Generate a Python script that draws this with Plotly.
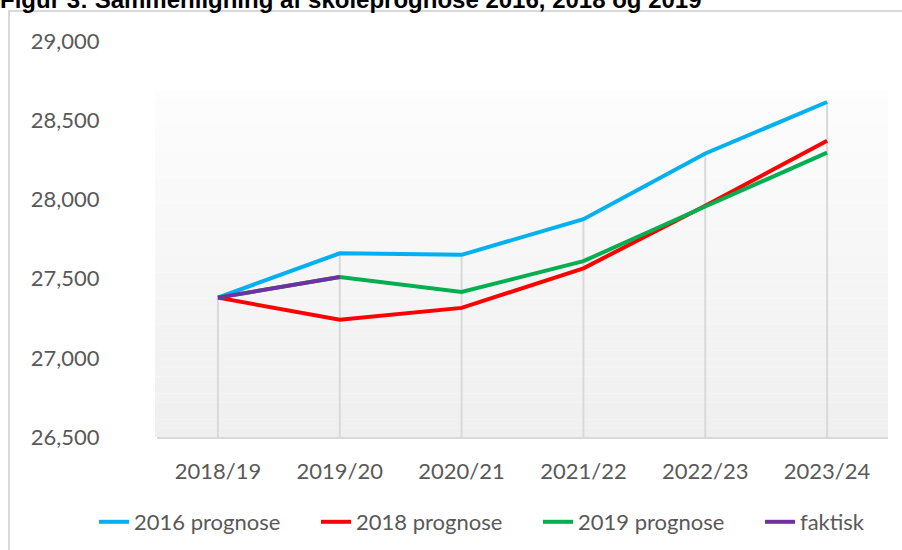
import plotly.graph_objects as go

categories = ["2018/19", "2019/20", "2020/21", "2021/22", "2022/23", "2023/24"]
prognose_2016 = [27380, 27660, 27650, 27875, 28290, 28615]
prognose_2018 = [27380, 27240, 27315, 27565, 27960, 28370]
prognose_2019 = [27380, 27510, 27415, 27610, 27955, 28295]
faktisk = [27380, 27510, None, None, None, None]

series = [
    ("2016 prognose", prognose_2016, "#00b0f0"),
    ("2018 prognose", prognose_2018, "#ff0000"),
    ("2019 prognose", prognose_2019, "#00b050"),
    ("faktisk", faktisk, "#7030a0"),
]

FONT = "Lato, 'Open Sans', sans-serif"
W, H = 902, 550
L, R, T, B = 157, 14, 41, 113
PW, PH = W - L - R, H - T - B


def px_x(px):
    return (px - L) / PW


def px_y(py):
    return (H - B - py) / PH


fig = go.Figure()
for name, vals, color in series:
    fig.add_trace(go.Scatter(
        x=categories, y=vals, name=name, mode="lines",
        line=dict(color=color, width=4), connectgaps=False,
        legendwidth=177 if name != "faktisk" else 70,
    ))

shapes = []
# gradient background of plot area (style only)
top_px, bot_px = 91, 437
n = 40
for i in range(n):
    y0p = top_px + (bot_px - top_px) * i / n
    y1p = top_px + (bot_px - top_px) * (i + 1) / n
    t = (i + 0.5) / n
    g = round(253 - (253 - 239) * t)
    shapes.append(dict(
        type="rect", xref="paper", yref="paper",
        x0=px_x(155), x1=px_x(888), y0=px_y(y1p), y1=px_y(y0p),
        fillcolor=f"rgb({g},{g},{g})", line=dict(width=0), layer="below",
    ))

# drop lines from highest value down to axis
for i, c in enumerate(categories):
    top = max(v[i] for _, v, _ in series if v[i] is not None)
    shapes.append(dict(
        type="line", xref="x", yref="y", x0=c, x1=c, y0=26500, y1=top,
        line=dict(color="#d9d9d9", width=2), layer="below",
    ))

# outer chart border
shapes.append(dict(
    type="rect", xref="paper", yref="paper",
    x0=px_x(9), x1=px_x(920), y0=px_y(570), y1=px_y(11),
    line=dict(color="#d9d9d9", width=2), fillcolor="rgba(0,0,0,0)",
))

fig.update_layout(
    width=W, height=H,
    margin=dict(l=L, r=R, t=T, b=B, pad=0, autoexpand=False),
    paper_bgcolor="white", plot_bgcolor="rgba(0,0,0,0)",
    font=dict(family=FONT, size=22, color="#595959"),
    shapes=shapes,
    showlegend=True,
    legend=dict(
        orientation="h", xref="paper", yref="paper",
        x=px_x(94), xanchor="left", y=px_y(501), yanchor="top",
        font=dict(family=FONT, size=22, color="#595959"),
        bgcolor="rgba(0,0,0,0)", traceorder="normal",
    ),
    annotations=[dict(
        text="<b>Figur 3: Sammenligning af skoleprognose 2016, 2018 og 2019</b>",
        xref="paper", yref="paper", x=px_x(-1), y=px_y(14),
        xanchor="left", yanchor="bottom", showarrow=False,
        font=dict(family="Liberation Sans, Arial, sans-serif", size=24, color="black"),
        borderpad=0,
    )],
)
fig.update_xaxes(
    type="category", range=[-0.5, 5.5], showgrid=False, zeroline=False,
    showline=True, linecolor="#d9d9d9", linewidth=2, automargin=False,
    ticks="outside", ticklen=14, tickcolor="rgba(0,0,0,0)",
    tickfont=dict(family=FONT, size=22, color="#595959"),
)
fig.update_yaxes(
    range=[26500, 29000], dtick=500, tickformat=",", showgrid=False,
    zeroline=False, showline=False, automargin=False,
    ticks="outside", ticklen=52, tickcolor="rgba(0,0,0,0)",
    tickfont=dict(family=FONT, size=22, color="#595959"),
)
fig.write_html(
    "out.html",
    config={"displayModeBar": False},
    post_script="document.body.style.margin='0';document.body.style.overflow='hidden';",
)
